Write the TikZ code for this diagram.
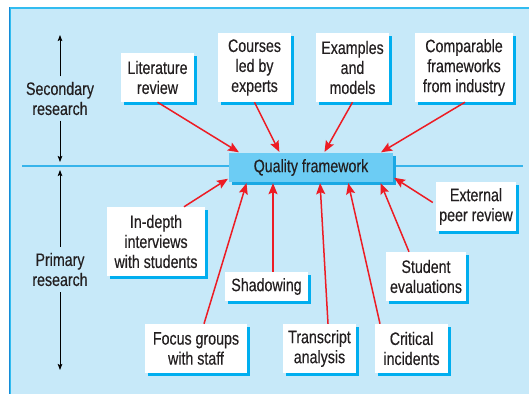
\documentclass[tikz,border=0pt]{standalone}
\usepackage{fontspec}
\setmainfont{Liberation Sans}[FakeStretch=0.79,FakeBold=0.3]
\usetikzlibrary{arrows.meta,shadows}
\definecolor{bgblue}{RGB}{199,233,249}
\definecolor{edgecyan}{RGB}{50,188,240}
\definecolor{edgeblue}{RGB}{20,140,215}
\definecolor{linecyan}{RGB}{55,180,235}
\definecolor{boxshadow}{RGB}{0,174,239}
\definecolor{qffill}{RGB}{108,204,244}
\definecolor{qfshadow}{RGB}{25,168,228}
\definecolor{arrred}{RGB}{237,28,36}
\definecolor{txt}{RGB}{35,31,32}
\tikzset{
  lbl/.style={font=\fontsize{18}{20}\selectfont, text=txt, align=center, inner sep=0pt},
  srcbox/.style={lbl, fill=white, minimum width=#1, drop shadow={shadow xshift=3pt, shadow yshift=-3pt, fill=boxshadow, opacity=1}},
  qfbox/.style={lbl, fill=qffill, minimum width=164pt, minimum height=29pt, drop shadow={shadow xshift=3pt, shadow yshift=-2.5pt, fill=qfshadow, opacity=1}},
  redarr/.style={draw=arrred, line width=1.5pt, -{Stealth[length=11pt,width=9pt,inset=2pt]}, shorten >=1pt},
  blkarr/.style={draw=black, line width=0.8pt, -{Stealth[length=6pt,width=4.5pt,inset=1pt]}},
}
\begin{document}
\begin{tikzpicture}[x=1pt,y=-1pt]
\useasboundingbox (0,0) rectangle (529,394);
\fill[bgblue] (9,7) rectangle (529,394);
\draw[edgecyan, line width=1.6pt] (9,7.8) -- (529,7.8);
\draw[edgeblue, line width=1.2pt] (9.6,7) -- (9.6,394);
\draw[edgecyan, line width=0.8pt] (10.8,8.5) -- (10.8,394);
\draw[linecyan, line width=1.5pt] (22,166) -- (523,166);

% side labels
\node[lbl, minimum height=44pt] (sec) at (60,98.5) {Secondary\\research};
\node[lbl, minimum height=45pt] (pri) at (60,269.5) {Primary\\research};
\coordinate (sectop) at (60,35);
\coordinate (secbot) at (60,162);
\coordinate (pritop) at (60,170);
\coordinate (pribot) at (60,370);
\draw[blkarr] (sec.north) -- (sectop);
\draw[blkarr] (sec.south) -- (secbot);
\draw[blkarr] (pri.north) -- (pritop);
\draw[blkarr] (pri.south) -- (pribot);

% central box
\node[qfbox] (qf) at (311,167.5) {Quality framework};

% top sources
\node[srcbox=73pt, minimum height=49pt] (lit) at (157.5,77.5) {Literature\\review};
\node[srcbox=73pt, minimum height=69pt] (cou) at (254.5,67.5) {Courses\\led by\\experts};
\node[srcbox=73pt, minimum height=69pt] (exa) at (352.5,67.5) {Examples\\and\\models};
\node[srcbox=98pt, minimum height=69pt] (com) at (464,67.5) {Comparable\\frameworks\\from industry};

% bottom sources
\node[srcbox=98pt, minimum height=69pt] (ind) at (156,241.5) {In-depth\\interviews\\with students};
\node[srcbox=83pt, minimum height=29pt] (sha) at (266.5,286.5) {Shadowing};
\node[srcbox=102pt, minimum height=49pt] (foc) at (196,348.5) {Focus groups\\with staff};
\node[srcbox=73pt, minimum height=49pt] (tra) at (319.5,348.5) {Transcript\\analysis};
\node[srcbox=73pt, minimum height=49pt] (cri) at (411.5,348.5) {Critical\\incidents};
\node[srcbox=80pt, minimum height=49pt] (stu) at (426,276.5) {Student\\evaluations};
\node[srcbox=80pt, minimum height=49pt] (ext) at (476,206.5) {External\\peer review};

% arrows
\draw[redarr] (lit.south) -- ([xshift=11pt]qf.north west);
\draw[redarr] (cou.south) -- ([xshift=51pt]qf.north west);
\draw[redarr] (exa.south) -- ([xshift=13pt]qf.north);
\draw[redarr] ([xshift=1pt]com.south) -- ([xshift=-13pt]qf.north east);
\draw[redarr] ([xshift=-3pt,yshift=4pt]ext.west) -- ([yshift=5pt]qf.south east);
\draw[redarr] ([xshift=-17pt]stu.north) -- ([xshift=-13pt]qf.south east);
\draw[redarr] ([xshift=-31.5pt]cri.north) -- ([xshift=37pt]qf.south);
\draw[redarr] ([xshift=8.5pt]tra.north) -- ([xshift=9pt]qf.south);
\draw[redarr] ([xshift=6.5pt]sha.north) -- ([xshift=-38pt]qf.south);
\draw[redarr] ([xshift=8pt]foc.north) -- ([xshift=18pt]qf.south west);
\draw[redarr] ([xshift=28pt]ind.north) -- ([yshift=4pt]qf.south west);
\end{tikzpicture}
\end{document}
